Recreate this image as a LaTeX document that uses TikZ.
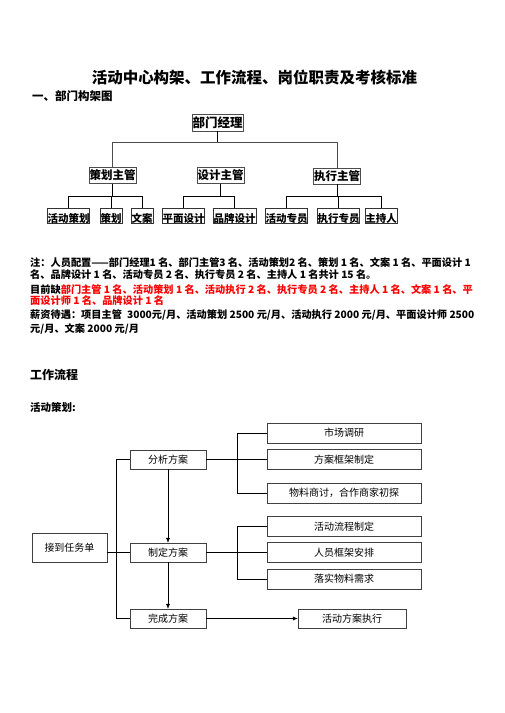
\documentclass[tikz,border=0pt]{standalone}
\usepackage{fontspec}
\setmainfont{Noto Sans CJK SC}
\usetikzlibrary{arrows.meta}
\begin{document}
\begin{tikzpicture}[x=1pt,y=-1pt,
  every node/.style={inner sep=0pt},
  boss/.style={draw=black!70,minimum width=51,minimum height=17,font=\fontsize{12.5}{13}\selectfont\bfseries},
  chief/.style={draw=black!70,minimum width=47,minimum height=16,font=\fontsize{11.5}{12}\selectfont\bfseries},
  leaf/.style={draw=black!80,minimum height=15,text height=13.5pt,text depth=0.5pt,font=\fontsize{10.5}{11}\selectfont\bfseries},
  note/.style={anchor=west,font=\fontsize{10.2}{11}\selectfont\bfseries},
  flow/.style={draw=black!75,minimum width=76,minimum height=19,font=\fontsize{10}{11}\selectfont},
  task/.style={flow,minimum width=154,minimum height=20},
  arr/.style={-{Latex[length=5pt,width=4pt]}}]
\useasboundingbox (0,0) rectangle (504,713);

\node[font=\fontsize{15.5}{16}\selectfont\bfseries] (title) at (254.5,78) {活动中心构架、工作流程、岗位职责及考核标准};
\node[anchor=west,font=\fontsize{11.5}{12}\selectfont\bfseries] (sec1) at (32,96) {一、部门构架图};

% org chart
\node[boss] (jl) at (217.5,122.5) {部门经理};
\node[chief] (ch) at (112.5,175.5) {策划主管};
\node[chief] (sj) at (220.5,175.5) {设计主管};
\node[chief] (zx) at (337,176) {执行主管};
\node[leaf,minimum width=41] (hdch) at (68.5,215.5) {活动策划};
\node[leaf,minimum width=22] (cehua) at (111,215.5) {策划};
\node[leaf,minimum width=22] (wenan) at (142,215.5) {文案};
\node[leaf,minimum width=41] (pmsj) at (183.5,215.5) {平面设计};
\node[leaf,minimum width=43] (ppsj) at (234.5,215.5) {品牌设计};
\node[leaf,minimum width=41] (hdzy) at (286.5,215.5) {活动专员};
\node[leaf,minimum width=41] (zxzy) at (338.5,215.5) {执行专员};
\node[leaf,minimum width=32] (zcr) at (381,215.5) {主持人};

\coordinate (bus) at (0,142);
\coordinate (bus2) at (0,196);
\draw[line width=1pt] (jl.south) -- (jl.south |- bus);
\draw[line width=1pt,black!70] (ch.north) |- (bus -| zx.north) -- (zx.north);
\draw (ch.south) -- (ch.south |- bus2);
\draw (hdch.north) |- (bus2 -| wenan.north) -- (wenan.north);
\draw (cehua.north) -- (cehua.north |- bus2);
\draw (sj.south) -- (sj.south |- bus2);
\draw (pmsj.north) |- (bus2 -| ppsj.north) -- (ppsj.north);
\draw (zx.south) -- (zx.south |- bus2);
\draw (hdzy.north) |- (bus2 -| zcr.north) -- (zcr.north);
\draw (zxzy.north) -- (zxzy.north |- bus2);

% notes
\node[note] (n1) at (30,263) {注：人员配置——部门经理1 名、部门主管3 名、活动策划2 名、策划 1 名、文案 1 名、平面设计 1};
\node[note] (n2) at (30,275) {名、品牌设计 1 名、活动专员 2 名、执行专员 2 名、主持人 1 名共计 15 名。};
\node[note] (n3) at (30,290) {目前缺\textcolor{red}{部门主管 1 名、活动策划 1 名、活动执行 2 名、执行专员 2 名、主持人 1 名、文案 1 名、平}};
\node[note,red] (n4) at (30,301) {面设计师 1 名、品牌设计 1 名};
\node[note] (n5) at (30,315) {薪资待遇：项目主管\enspace 3000元/月、活动策划 2500 元/月、活动执行 2000 元/月、平面设计师 2500};
\node[note] (n6) at (30,329) {元/月、文案 2000 元/月};

\node[anchor=west,font=\fontsize{12}{13}\selectfont\bfseries] (sec2) at (30,375) {工作流程};
\node[anchor=west,font=\fontsize{10.5}{11}\selectfont\bfseries] (sec3) at (30,407) {活动策划:};

% flow chart
\node[flow,minimum width=75,minimum height=29] (rw) at (69.5,547.5) {接到任务单};
\node[flow] (fx) at (168,459.5) {分析方案};
\node[flow] (zd) at (168,552.5) {制定方案};
\node[flow] (wc) at (168,618.5) {完成方案};
\node[task] (sc) at (344,433) {市场调研};
\node[task] (kj) at (344,459.5) {方案框架制定};
\node[task] (wl) at (344,493) {物料商讨，合作商家初探};
\node[task] (lc) at (344,526.5) {活动流程制定};
\node[task] (ry) at (344,552.5) {人员框架安排};
\node[task] (ls) at (344,579) {落实物料需求};
\node[flow,minimum width=108] (zxfa) at (352,618.5) {活动方案执行};

\draw (fx.west) -- ++(-14,0) |- (wc.west);
\draw (rw.east |- zd.west) -- (zd.west);
\draw[arr] (fx.south) -- (zd.north);
\draw[arr] (zd.south) -- (wc.north);
\draw (fx.east) -- (kj.west);
\draw (sc.west) -- ++(-30,0) |- (wl.west);
\draw (zd.east) -- (ry.west);
\draw (lc.west) -- ++(-30,0) |- (ls.west);
\draw[arr] (wc.east) -- (zxfa.west);
\end{tikzpicture}
\end{document}
